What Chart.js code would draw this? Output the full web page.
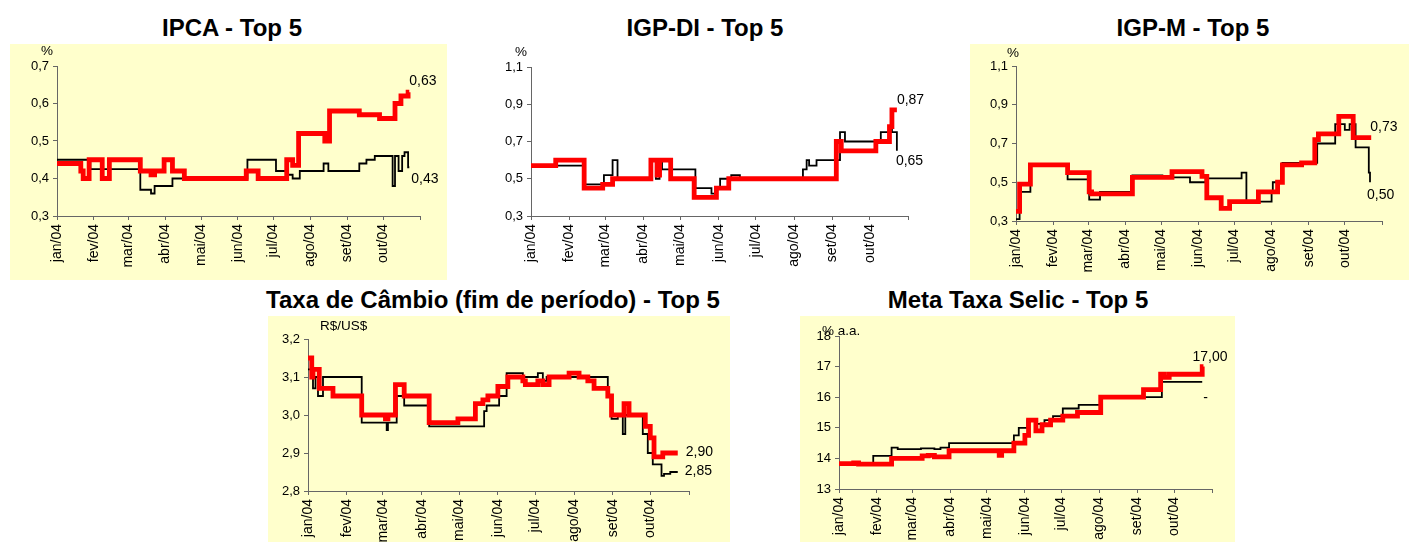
<!DOCTYPE html>
<html>
<head>
<meta charset="utf-8">
<script src="https://cdn.jsdelivr.net/npm/chart.js@4.4.0/dist/chart.umd.min.js"></script>
<style>
  body { margin: 0; background: #fff; width: 1409px; height: 542px; position: relative; overflow: hidden; font-family: "Liberation Sans", Arial, sans-serif; }
  .title { position: absolute; font-weight: bold; font-size: 24px; line-height: 1; white-space: nowrap; transform: translateX(-50%); }
  canvas { position: absolute; }
</style>
</head>
<body>
<div class="title" style="left:232px;top:16px">IPCA - Top 5</div>
<div class="title" style="left:705px;top:16px">IGP-DI - Top 5</div>
<div class="title" style="left:1193px;top:16px">IGP-M - Top 5</div>
<div class="title" style="left:493px;top:288px">Taxa de Câmbio (fim de período) - Top 5</div>
<div class="title" style="left:1018px;top:288px">Meta Taxa Selic - Top 5</div>

<script>
// eixo x: dias desde 1/jan/2004
const monthDays = [0, 31, 60, 91, 121, 152, 182, 213, 244, 274, 305];
const monthLabels = ['jan/04', 'fev/04', 'mar/04', 'abr/04', 'mai/04', 'jun/04', 'jul/04', 'ago/04', 'set/04', 'out/04', ''];

// IPCA
const ipcaTop5Days = [0, 20, 22, 27, 38, 44, 70, 79, 82, 90, 97, 107, 159, 169, 193, 198, 203, 225, 229, 254, 271, 284, 289, 295, 296];
const ipcaTop5Vals = [0.44, 0.42, 0.40, 0.45, 0.40, 0.45, 0.42, 0.41, 0.42, 0.45, 0.42, 0.40, 0.42, 0.40, 0.45, 0.435, 0.52, 0.50, 0.58, 0.57, 0.56, 0.60, 0.62, 0.63, 0.63];
const ipcaGeralDays = [0, 28, 70, 79, 82, 97, 160, 184, 194, 198, 204, 224, 228, 254, 260, 267, 282, 284, 287, 290, 292, 295, 296];
const ipcaGeralVals = [0.45, 0.425, 0.37, 0.36, 0.38, 0.40, 0.45, 0.42, 0.41, 0.40, 0.42, 0.44, 0.42, 0.44, 0.45, 0.46, 0.38, 0.46, 0.42, 0.46, 0.47, 0.43, 0.43];
const ipcaEndLabels = ['0,63', '0,43'];

// IGP-DI
const igpdiTop5Days = [0, 20, 43, 58, 66, 97, 102, 104, 113, 132, 150, 160, 247, 251, 279, 290, 292, 296];
const igpdiTop5Vals = [0.57, 0.60, 0.45, 0.47, 0.50, 0.60, 0.52, 0.60, 0.50, 0.40, 0.45, 0.50, 0.70, 0.65, 0.70, 0.78, 0.87, 0.87];
const igpdiGeralDays = [0, 43, 59, 66, 70, 97, 101, 104, 106, 133, 146, 150, 153, 162, 169, 220, 223, 225, 231, 250, 254, 283, 290, 292, 296];
const igpdiGeralVals = [0.57, 0.47, 0.52, 0.60, 0.50, 0.60, 0.50, 0.60, 0.55, 0.45, 0.42, 0.45, 0.50, 0.52, 0.50, 0.55, 0.60, 0.57, 0.60, 0.75, 0.70, 0.75, 0.77, 0.75, 0.65];
const igpdiEndLabels = ['0,87', '0,65'];

// IGP-M
const igpmTop5Days = [0, 3, 12, 43, 61, 63, 97, 130, 155, 159, 171, 178, 202, 218, 222, 238, 249, 252, 269, 281, 296];
const igpmTop5Vals = [0.35, 0.49, 0.59, 0.55, 0.45, 0.44, 0.525, 0.555, 0.53, 0.42, 0.365, 0.40, 0.45, 0.50, 0.59, 0.60, 0.72, 0.75, 0.84, 0.73, 0.73];
const igpmGeralDays = [0, 3, 12, 43, 61, 70, 97, 122, 145, 158, 188, 192, 213, 214, 222, 251, 266, 274, 278, 283, 294, 295];
const igpmGeralVals = [0.31, 0.45, 0.59, 0.515, 0.41, 0.45, 0.535, 0.525, 0.50, 0.52, 0.55, 0.40, 0.45, 0.50, 0.60, 0.70, 0.80, 0.77, 0.80, 0.68, 0.55, 0.50];
const igpmEndLabels = ['0,73', '0,50'];

// Câmbio
const cambioTop5Days = [0, 3, 4, 9, 20, 43, 62, 64, 70, 77, 97, 120, 134, 140, 144, 152, 160, 172, 174, 184, 188, 193, 209, 217, 224, 229, 240, 243, 253, 257, 270, 274, 277, 284, 296];
const cambioTop5Vals = [3.15, 3.10, 3.12, 3.07, 3.05, 3.00, 2.99, 3.00, 3.08, 3.05, 2.98, 2.99, 3.03, 3.04, 3.05, 3.075, 3.10, 3.09, 3.08, 3.09, 3.08, 3.10, 3.11, 3.10, 3.09, 3.07, 3.05, 3.00, 3.03, 3.00, 2.97, 2.94, 2.89, 2.90, 2.90];
const cambioGeralDays = [0, 4, 6, 8, 12, 43, 63, 64, 71, 77, 97, 141, 143, 153, 159, 172, 184, 188, 191, 240, 243, 248, 252, 254, 268, 272, 276, 283, 285, 290, 296];
const cambioGeralVals = [3.12, 3.07, 3.10, 3.05, 3.10, 2.98, 2.96, 2.98, 3.05, 3.025, 2.97, 3.01, 3.025, 3.05, 3.11, 3.10, 3.11, 3.09, 3.10, 3.05, 2.99, 3.00, 2.95, 3.00, 2.95, 2.90, 2.87, 2.84, 2.845, 2.85, 2.85];
const cambioEndLabels = ['2,90', '2,85'];

// Selic
const selicTop5Days = [0, 12, 16, 43, 68, 73, 78, 90, 131, 133, 143, 152, 155, 161, 166, 173, 183, 195, 214, 249, 263, 266, 270, 297, 298];
const selicTop5Vals = [13.83, 13.85, 13.81, 14.0, 14.08, 14.1, 14.05, 14.25, 14.1, 14.25, 14.5, 14.75, 15.25, 14.9, 15.1, 15.25, 15.38, 15.5, 16.0, 16.25, 16.75, 16.65, 16.75, 17.0, 17.0];
const selicGeralDays = [0, 28, 43, 48, 67, 78, 83, 90, 143, 147, 154, 162, 168, 175, 183, 196, 215, 264, 297];
const selicGeralVals = [13.83, 14.08, 14.35, 14.3, 14.33, 14.3, 14.35, 14.5, 14.75, 15.0, 15.25, 15.13, 15.25, 15.38, 15.63, 15.75, 16.0, 16.5, 16.5];
const selicEndLabels = ['17,00', '-'];

const FONT = '"Liberation Sans", Arial, sans-serif';
Chart.defaults.font.family = FONT;
Chart.defaults.color = '#000';

function pts(days, vals) {
  return days.map((d, i) => ({ x: d, y: vals[i] }));
}

const endLabelPlugin = {
  id: 'endLabels',
  afterDatasetsDraw(chart, args, opts) {
    const ctx = chart.ctx;
    const area = chart.chartArea;
    ctx.save();
    ctx.fillStyle = '#000';
    ctx.textAlign = 'left';
    ctx.textBaseline = 'middle';
    ctx.font = '14px ' + FONT;
    opts.labels.forEach((txt, i) => {
      const els = chart.getDatasetMeta(i).data;
      const last = els[els.length - 1];
      ctx.fillText(txt, last.x + opts.offsets[i][0], last.y + opts.offsets[i][1]);
    });
    ctx.font = '13.5px ' + FONT;
    ctx.fillText(opts.unit, area.left + opts.unitPos[0], area.top + opts.unitPos[1]);
    ctx.restore();
  }
};

function makePanel(p) {
  const cv = document.createElement('canvas');
  const w = p.box[2] - p.box[0], h = p.box[3] - p.box[1];
  cv.width = w; cv.height = h;
  cv.style.left = p.box[0] + 'px';
  cv.style.top = p.box[1] + 'px';
  cv.style.width = w + 'px';
  cv.style.height = h + 'px';
  cv.style.background = p.bg;
  document.body.appendChild(cv);

  new Chart(cv, {
    type: 'line',
    data: {
      datasets: [
        { data: pts(p.topDays, p.topVals), borderColor: '#ff0000', borderWidth: 4.8, stepped: true, pointRadius: 0, fill: false },
        { data: pts(p.geralDays, p.geralVals), borderColor: '#000000', borderWidth: 1.8, stepped: true, pointRadius: 0, fill: false }
      ]
    },
    options: {
      responsive: false, animation: false, devicePixelRatio: 1,
      layout: { autoPadding: false, padding: { left: 0, bottom: 0, top: p.plot[1] - p.box[1], right: p.box[2] - p.plot[2] } },
      plugins: {
        legend: { display: false }, tooltip: { enabled: false },
        endLabels: { labels: p.endLabels, offsets: p.offsets, unit: p.unit, unitPos: p.unitPos }
      },
      scales: {
        x: {
          type: 'linear', min: 0, max: 305,
          afterBuildTicks: s => { s.ticks = monthDays.map(v => ({ value: v })); },
          afterFit: s => { s.height = p.box[3] - p.plot[3]; },
          ticks: { autoSkip: false, minRotation: 90, maxRotation: 90, padding: 4, font: { size: 14 }, callback: (v, i) => monthLabels[i] },
          grid: { drawOnChartArea: false, drawTicks: true, tickLength: 4, color: '#666' },
          border: { color: '#666', width: 1 }
        },
        y: {
          type: 'linear', min: p.yMin, max: p.yMax,
          afterBuildTicks: s => {
            const t = [];
            for (let k = 0; k <= Math.round((p.yMax - p.yMin) / p.yStep); k++) t.push({ value: p.yMin + k * p.yStep });
            s.ticks = t;
          },
          afterFit: s => { s.width = p.plot[0] - p.box[0]; },
          ticks: { padding: 4, font: { size: 13 }, callback: v => v.toFixed(p.dec).replace('.', ',') },
          grid: { drawOnChartArea: false, drawTicks: true, tickLength: 4, color: '#666' },
          border: { color: '#666', width: 1 }
        }
      }
    },
    plugins: [endLabelPlugin]
  });
}

makePanel({
  box: [10, 44, 447, 280], plot: [57, 66, 420, 216], bg: '#ffffcc',
  topDays: ipcaTop5Days, topVals: ipcaTop5Vals, geralDays: ipcaGeralDays, geralVals: ipcaGeralVals,
  yMin: 0.3, yMax: 0.7, yStep: 0.1, dec: 1,
  endLabels: ipcaEndLabels, offsets: [[0, -11], [2, 12]], unit: '%', unitPos: [-16, -15]
});
makePanel({
  box: [470, 44, 960, 280], plot: [531, 67, 908, 216], bg: '#ffffff',
  topDays: igpdiTop5Days, topVals: igpdiTop5Vals, geralDays: igpdiGeralDays, geralVals: igpdiGeralVals,
  yMin: 0.3, yMax: 1.1, yStep: 0.2, dec: 1,
  endLabels: igpdiEndLabels, offsets: [[0, -10], [-1, 10]], unit: '%', unitPos: [-16, -15]
});
makePanel({
  box: [970, 44, 1409, 280], plot: [1016, 66, 1382, 221], bg: '#ffffcc',
  topDays: igpmTop5Days, topVals: igpmTop5Vals, geralDays: igpmGeralDays, geralVals: igpmGeralVals,
  yMin: 0.3, yMax: 1.1, yStep: 0.2, dec: 1,
  endLabels: igpmEndLabels, offsets: [[-1, -11], [-3, 13]], unit: '%', unitPos: [-9, -13]
});
makePanel({
  box: [268, 316, 730, 542], plot: [308, 339, 689, 491], bg: '#ffffcc',
  topDays: cambioTop5Days, topVals: cambioTop5Vals, geralDays: cambioGeralDays, geralVals: cambioGeralVals,
  yMin: 2.8, yMax: 3.2, yStep: 0.1, dec: 1,
  endLabels: cambioEndLabels, offsets: [[8, -1], [7, -1]], unit: 'R$/US$', unitPos: [12, -13]
});
makePanel({
  box: [800, 316, 1235, 542], plot: [839, 336, 1212, 489], bg: '#ffffcc',
  topDays: selicTop5Days, topVals: selicTop5Vals, geralDays: selicGeralDays, geralVals: selicGeralVals,
  yMin: 13, yMax: 18, yStep: 1, dec: 0,
  endLabels: selicEndLabels, offsets: [[-11, -9], [1, 16]], unit: '% a.a.', unitPos: [-17, -5]
});
</script>
</body>
</html>
